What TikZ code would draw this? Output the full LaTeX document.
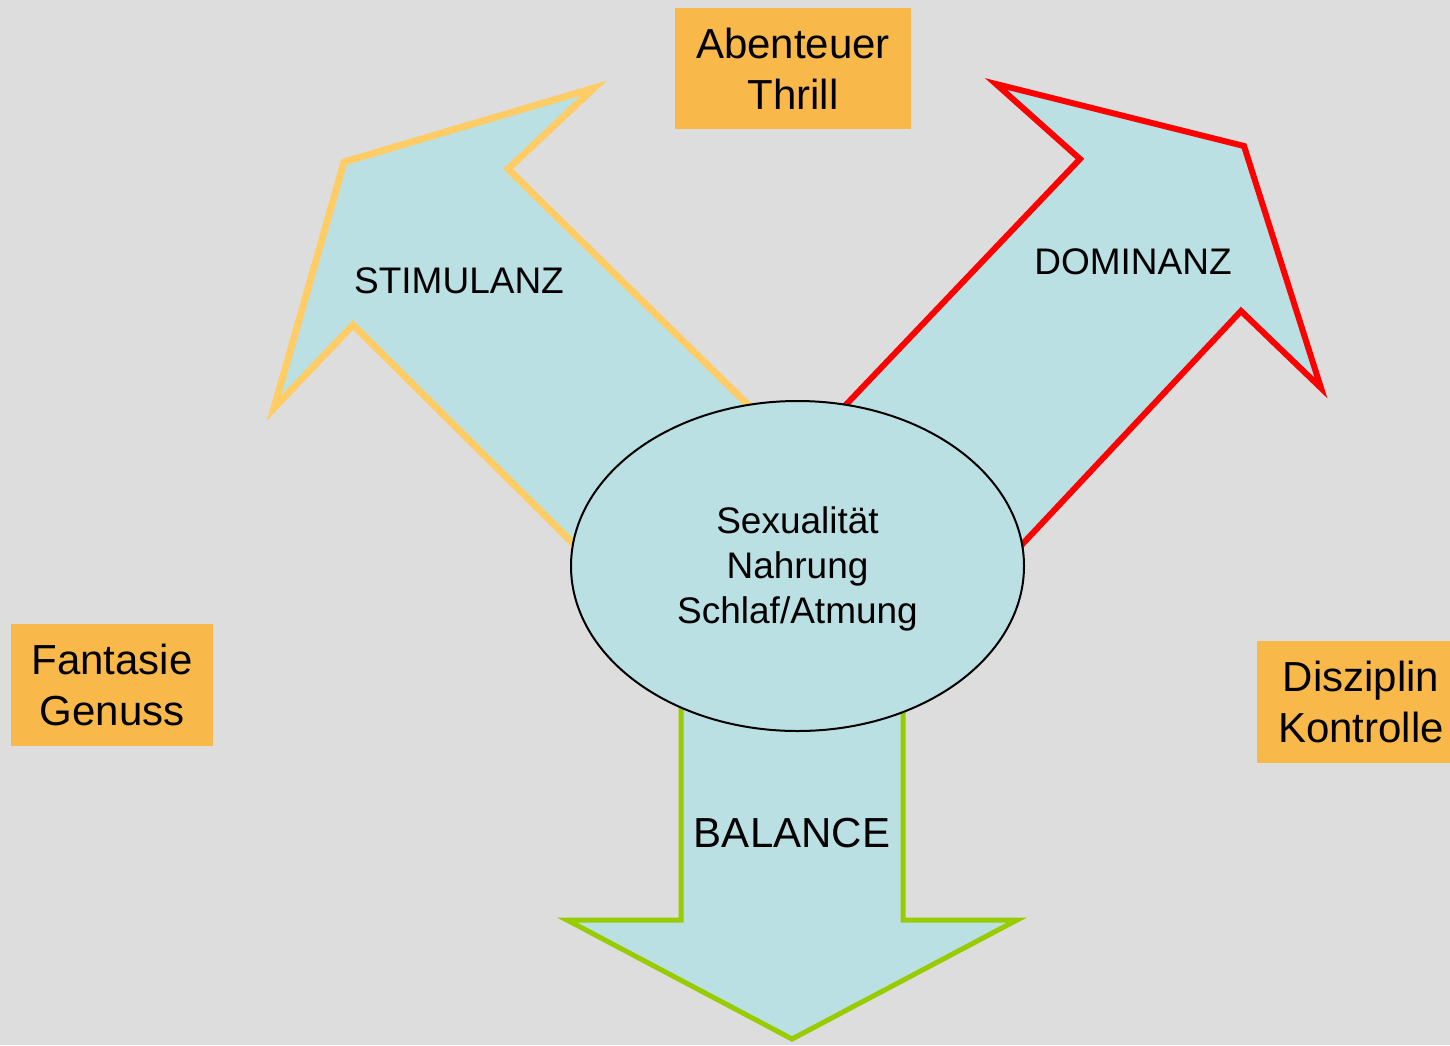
\documentclass[tikz,border=0pt]{standalone}
\usepackage{fontspec}
\setmainfont{Liberation Sans}
\usetikzlibrary{shapes.geometric}
\definecolor{bg}{HTML}{DDDDDD}
\definecolor{ablue}{HTML}{BAE0E3}
\definecolor{boxorange}{HTML}{F9B94A}
\definecolor{lineorange}{HTML}{FFCC66}
\definecolor{linered}{HTML}{FF0000}
\definecolor{linegreen}{HTML}{99CC00}
\tikzset{
  blockarrow/.style={fill=ablue, line width=6pt, line join=miter},
  tagbox/.style={fill=boxorange, inner sep=0pt, align=center, font=\fontsize{42}{51}\selectfont},
  arrowlabel/.style={inner sep=0pt, font=\fontsize{37}{45}\selectfont}
}
\begin{document}
\begin{tikzpicture}[x=1pt,y=-1pt]
\clip (0,0) rectangle (1450,1045);
\fill[bg] (0,0) rectangle (1450,1045);
% left arrow (STIMULANZ)
\draw[blockarrow, draw=lineorange, line width=7pt] (344,162) -- (594,88) -- (508,169) -- (800,456) -- (620,590) -- (353,325) -- (274,408) -- cycle;
% right arrow (DOMINANZ)
\draw[blockarrow, draw=linered] (996,84) -- (1244,146) -- (1321,388) -- (1241,311) -- (970,600) -- (800,453) -- (1080,159) -- cycle;
% bottom arrow (BALANCE)
\draw[blockarrow, draw=linegreen, line width=5pt] (681,650) -- (681,920) -- (567,920) -- (792,1039) -- (1017,920) -- (903,920) -- (903,650) -- cycle;
% centre
\node[ellipse, draw=black, line width=2pt, fill=ablue, minimum width=453pt, minimum height=330pt, inner sep=0pt] (core) at (797.5,566) {};
\node[align=center, inner sep=0pt, font=\fontsize{37}{45}\selectfont] (coretext) at (797.5,569) {Sexualität\\Nahrung\\Schlaf/Atmung};
% arrow labels
\node[arrowlabel] (stim) at (459,281) {STIMULANZ};
\node[arrowlabel] (dom) at (1133,262) {DOMINANZ};
\node[arrowlabel, font=\fontsize{42}{50}\selectfont] (bal) at (792,833) {BALANCE};
% orange tag boxes
\node[tagbox, minimum width=236pt, minimum height=121pt] (thrill) at (793,68.5) {Abenteuer\\Thrill};
\node[tagbox, minimum width=202pt, minimum height=122pt] (fantasie) at (112,685) {Fantasie\\Genuss};
\node[tagbox, minimum width=208pt, minimum height=122pt] (disziplin) at (1361,702) {Disziplin\\Kontrolle};
\end{tikzpicture}
\end{document}
